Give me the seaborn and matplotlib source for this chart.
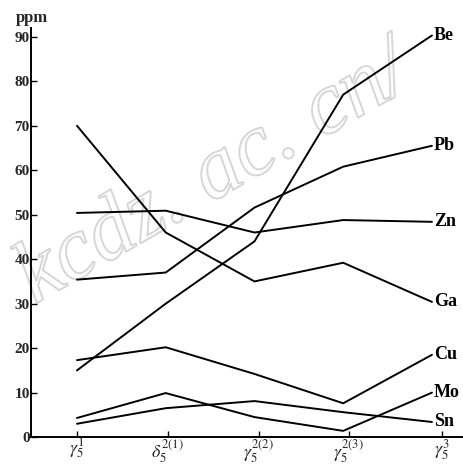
import matplotlib
matplotlib.use("Agg")
import matplotlib.pyplot as plt
import matplotlib.patheffects as pe
import seaborn as sns
import pandas as pd

categories = [r'$\gamma_5^1$', r'$\delta_5^{2(1)}$', r'$\gamma_5^{2(2)}$', r'$\gamma_5^{2(3)}$', r'$\gamma_5^3$']
elements = ['Be', 'Pb', 'Zn', 'Ga', 'Cu', 'Mo', 'Sn']
Be = [15, 30, 44, 77, 90.3]
Pb = [35.4, 37, 51.6, 60.8, 65.5]
Zn = [50.4, 50.9, 46, 48.8, 48.4]
Ga = [70, 46, 35, 39.2, 30.4]
Cu = [17.3, 20.2, 14.2, 7.6, 18.5]
Mo = [4.3, 9.9, 4.5, 1.4, 10]
Sn = [3, 6.5, 8.1, 5.6, 3.4]
yticks = [0, 10, 20, 30, 40, 50, 60, 70, 80, 90]

series = dict(Be=Be, Pb=Pb, Zn=Zn, Ga=Ga, Cu=Cu, Mo=Mo, Sn=Sn)
rows = []
for el in elements:
    for i, v in enumerate(series[el]):
        rows.append(dict(element=el, x=i, ppm=v))
df = pd.DataFrame(rows)

sns.set_style("ticks")
plt.rcParams['font.family'] = ['Liberation Serif', 'DejaVu Serif']
plt.rcParams['mathtext.fontset'] = 'stix'

fig = plt.figure(figsize=(4.63, 4.65), dpi=100)
ax = fig.add_axes([0.067, 0.060, 0.933, 0.88])
ax.patch.set_alpha(0)

sns.lineplot(data=df, x='x', y='ppm', hue='element', hue_order=elements,
             palette=['black'] * len(elements), linewidth=1.4, legend=False,
             ax=ax, zorder=3)

for el in elements:
    ax.text(4 + 0.02, series[el][-1], el, ha='left', va='center',
            fontsize=13, fontweight='semibold', color='black', zorder=4)

tick_shift = [0, 0.02, 0.05, 0.06, 0.11]
ax.set_xlim(-0.518, 4.35)
ax.set_ylim(0, 92)
ax.set_xticks([i + d for i, d in enumerate(tick_shift)])
ax.set_xticklabels(categories, fontsize=13)
ax.set_yticks(yticks)
ax.set_yticklabels([str(t) for t in yticks], fontsize=11, fontweight='bold')
ax.tick_params(axis='both', direction='in', length=4, width=1, color='black', pad=1)
ax.tick_params(axis='x', pad=0)
ax.set_xlabel('')
ax.set_ylabel('')
for s in ['top', 'right']:
    ax.spines[s].set_visible(False)
for s in ['left', 'bottom']:
    ax.spines[s].set_linewidth(1.4)
    ax.spines[s].set_color('black')

fig.text(0.035, 0.978, 'ppm', ha='left', va='top', fontsize=12, fontweight='bold')

wm = fig.text(0.008, 0.31, 'kcdz. ac. cn/', ha='left', va='bottom', rotation=30,
              fontsize=64, fontstyle='italic', color=(1, 1, 1, 0), zorder=-5,
              family=['Liberation Serif'])
wm.set_path_effects([pe.withStroke(linewidth=1.4, foreground='#d6d6d6')])

fig.savefig('out.png', dpi=100)
